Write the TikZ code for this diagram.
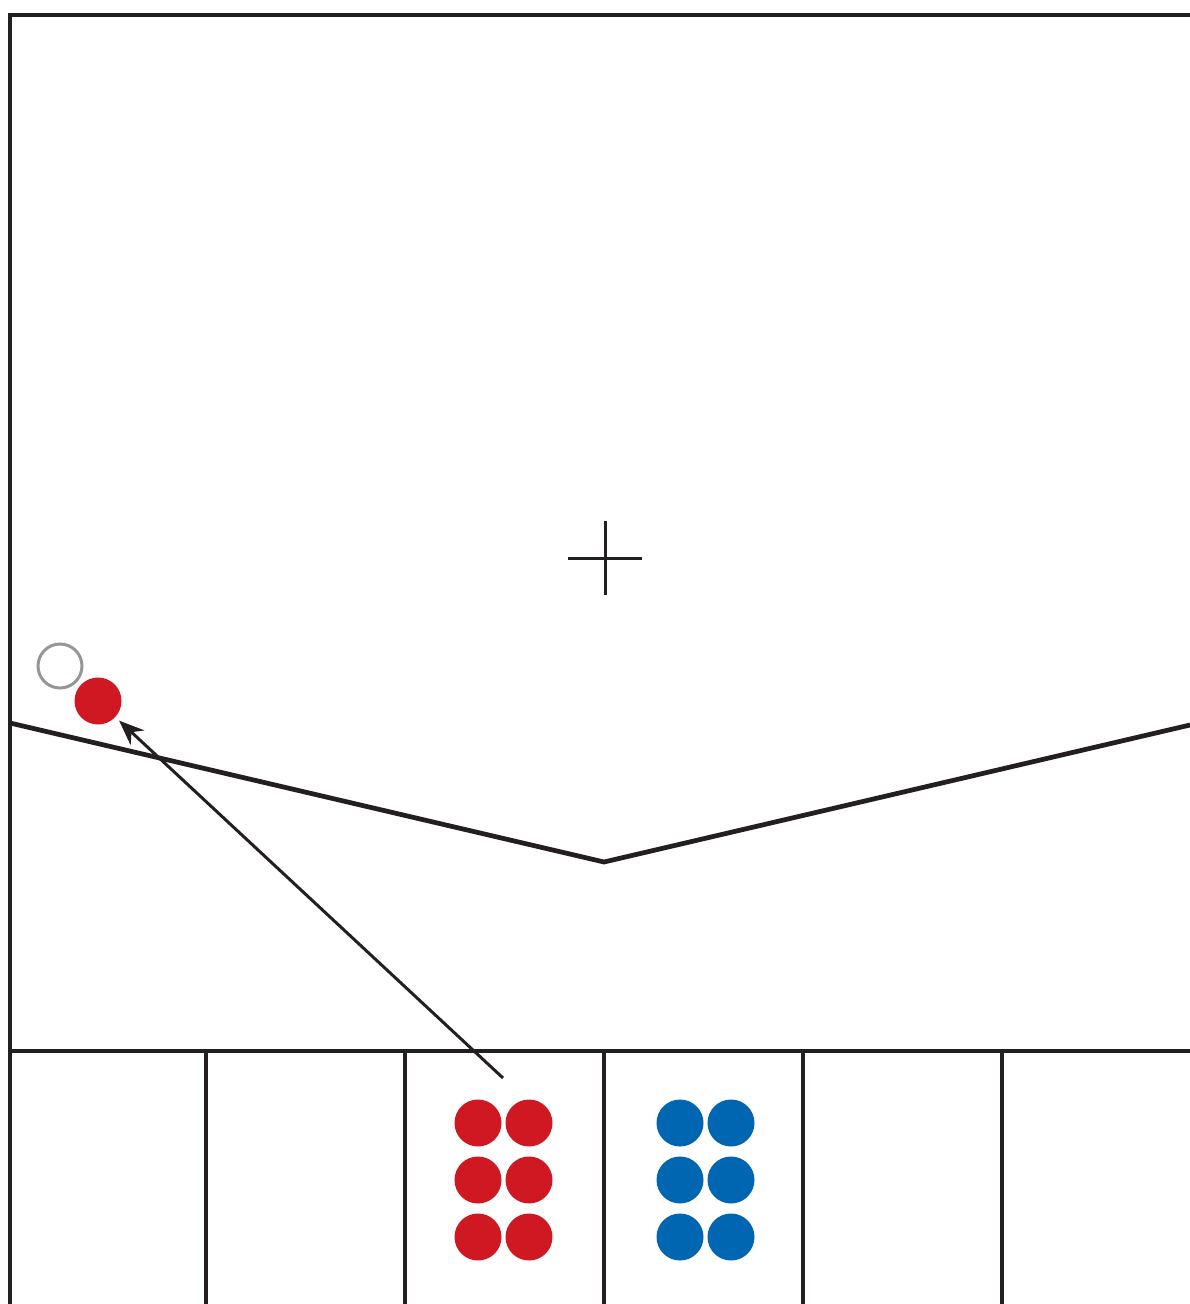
\documentclass[tikz,border=0pt]{standalone}
\usepackage{xcolor}
\usepackage{tikz}
\usetikzlibrary{arrows.meta, positioning}
\definecolor{inkdark}{RGB}{35,31,32}
\definecolor{ballred}{RGB}{208,24,34}
\definecolor{ballblue}{RGB}{0,102,178}
\definecolor{ghostgray}{RGB}{150,150,150}

\begin{document}
\begin{tikzpicture}[
				x=0.2mm, y=-0.2mm,
				wall/.style={draw=inkdark, line width=0.95mm, line join=miter},
				mark line/.style={draw=inkdark, line width=0.6mm},
				redball/.style={circle, fill=ballred, inner sep=0pt, minimum size=9.4mm},
				blueball/.style={circle, fill=ballblue, inner sep=0pt, minimum size=9.4mm},
				ghost/.style={circle, draw=ghostgray, line width=0.6mm, inner sep=0pt, minimum size=8.8mm},
				arrow/.style={-{Stealth[length=5mm, width=4mm]}, line width=0.6mm, color=inkdark}
				]
				\useasboundingbox (0,0) rectangle (1190,1304);

				% field border and goal line
				\draw[wall] (10,1304) -- (10,15) -- (1190,15);
				\draw[wall] (10,1051) -- (1190,1051);
				\foreach \xd in {206,405,604,803,1002}
					\draw[wall] (\xd,1051) -- (\xd,1304);

				% V line
				\draw[wall] (10,723) -- (604,862) -- (1190,725);

				% centre mark
				\draw[mark line] (568,558) -- (642,558);
				\draw[mark line] (605,521) -- (605,595);

				% balls
				\node[ghost] (ghost) at (60,666) {};
				\node[redball] (ball) at (98,701) {};
				\foreach \yd [count=\i] in {1123,1180,1237} {
					\node[redball] (red\i a) at (478,\yd) {};
					\node[redball] (red\i b) at (529,\yd) {};
					\node[blueball] (blue\i a) at (680,\yd) {};
					\node[blueball] (blue\i b) at (731,\yd) {};
				}

				% shot
				\coordinate (kick) at (503,1078);
				\draw[arrow, shorten >=1mm] (kick) -- (ball);
			\end{tikzpicture}
\end{document}
